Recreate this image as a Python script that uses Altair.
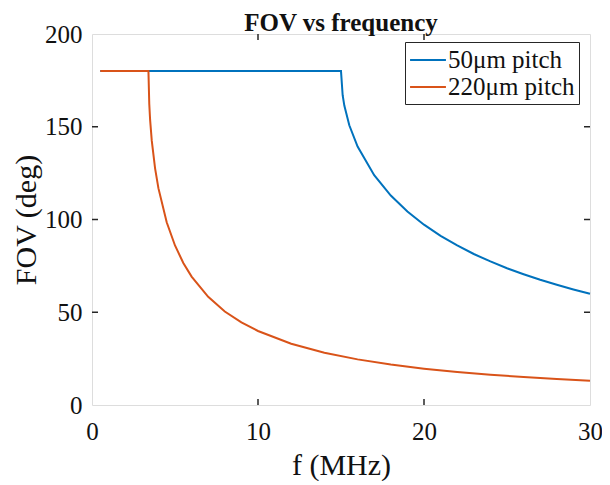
import altair as alt
import pandas as pd

f_50 = [0.5, 3.4, 15.0, 15.1, 15.2, 15.5, 16, 17, 18, 19, 20, 21, 22, 23, 24, 25, 26, 27, 28, 29, 30]
fov_50 = [180, 180, 180, 167, 161.4, 150.8, 139.3, 123.9, 112.9, 104.3, 97.2, 91.2, 86.0, 81.4, 77.4, 73.7, 70.5, 67.5, 64.8, 62.3, 60.0]

f_220 = [0.5, 3.4, 3.45, 3.5, 3.6, 3.8, 4, 4.5, 5, 5.5, 6, 7, 8, 9, 10, 12, 14, 16, 18, 20, 22, 24, 26, 28, 30]
fov_220 = [180, 180, 162.3, 153.8, 142.5, 127.6, 116.9, 98.5, 86.0, 76.6, 69.2, 58.3, 50.4, 44.5, 39.9, 33.0, 28.2, 24.6, 21.8, 19.6, 17.8, 16.3, 15.1, 14.0, 13.1]

series_names = ["50μm pitch", "220μm pitch"]
series_colors = ["#0072BD", "#D95319"]

x_ticks = [0, 10, 20, 30]
y_ticks = [0, 50, 100, 150, 200]
inner_x_ticks = [10, 20]
inner_y_ticks = [50, 100, 150]

W, H = 498, 371
FONT = "Liberation Serif"
AX = "#262626"

df = pd.concat([
    pd.DataFrame({"f": f_50, "fov": fov_50, "series": series_names[0]}),
    pd.DataFrame({"f": f_220, "fov": fov_220, "series": series_names[1]}),
])

xscale = alt.Scale(domain=[0, 30], nice=False)
yscale = alt.Scale(domain=[0, 200], nice=False)
cscale = alt.Scale(domain=series_names, range=series_colors)

xaxis = alt.Axis(values=x_ticks, title="f (MHz)", grid=False, domain=False, ticks=False,
                 labelFont=FONT, labelFontSize=25, labelColor="#111", labelPadding=14,
                 labelFlush=False,
                 titleFont=FONT, titleFontSize=30, titleFontWeight="normal", titleColor="#111",
                 titlePadding=6, format="d")
yaxis = alt.Axis(values=y_ticks, title="FOV (deg)", grid=False, domain=False, ticks=False,
                 labelFont=FONT, labelFontSize=25, labelColor="#111", labelPadding=10,
                 labelFlush=False,
                 titleFont=FONT, titleFontSize=30, titleFontWeight="normal", titleColor="#111",
                 titlePadding=3, format="d")

legend = alt.Legend(orient="none", legendX=313, legendY=8, title=None,
                    strokeColor=AX, fillColor="white",
                    padding=4, labelFont=FONT, labelFontSize=25, labelColor="#111",
                    symbolType="M-1.38,0L1.38,0", symbolSize=676, symbolStrokeWidth=2,
                    symbolOffset=5, labelLimit=400, rowPadding=0, labelOffset=6)

base = alt.Chart(df)
line50 = base.transform_filter(alt.datum.series == series_names[0]).mark_line(strokeWidth=2).encode(
    x=alt.X("f:Q", scale=xscale, axis=xaxis),
    y=alt.Y("fov:Q", scale=yscale, axis=yaxis),
    color=alt.Color("series:N", scale=cscale, legend=legend, sort=series_names),
)
line220 = base.transform_filter(alt.datum.series == series_names[1]).mark_line(strokeWidth=2).encode(
    x=alt.X("f:Q", scale=xscale),
    y=alt.Y("fov:Q", scale=yscale),
    color=alt.Color("series:N", scale=cscale, sort=series_names),
)

xt = pd.DataFrame({"t": inner_x_ticks})
yt = pd.DataFrame({"t": inner_y_ticks})
tick_bottom = alt.Chart(xt).mark_rule(color=AX, strokeWidth=1.5).encode(
    x=alt.X("t:Q", scale=xscale), y=alt.value(H), y2=alt.value(H - 6))
tick_top = alt.Chart(xt).mark_rule(color=AX, strokeWidth=1.5).encode(
    x=alt.X("t:Q", scale=xscale), y=alt.value(0), y2=alt.value(6))
tick_left = alt.Chart(yt).mark_rule(color=AX, strokeWidth=1.5).encode(
    y=alt.Y("t:Q", scale=yscale), x=alt.value(0), x2=alt.value(6))
tick_right = alt.Chart(yt).mark_rule(color=AX, strokeWidth=1.5).encode(
    y=alt.Y("t:Q", scale=yscale), x=alt.value(W), x2=alt.value(W - 6))

chart = alt.layer(line50, line220, tick_bottom, tick_top, tick_left, tick_right).properties(
    width=W, height=H,
    title=alt.TitleParams("FOV vs frequency", font=FONT, fontSize=25, fontWeight="bold",
                          color="#111", anchor="middle", offset=6, dy=20),
    autosize=alt.AutoSizeParams(type="none"),
    padding={"left": 84, "top": 26, "right": 12, "bottom": 76},
).configure_view(stroke=AX, strokeWidth=1.5).configure(background="white")

chart.save("out.html", embed_options={"renderer": "svg", "actions": False})
